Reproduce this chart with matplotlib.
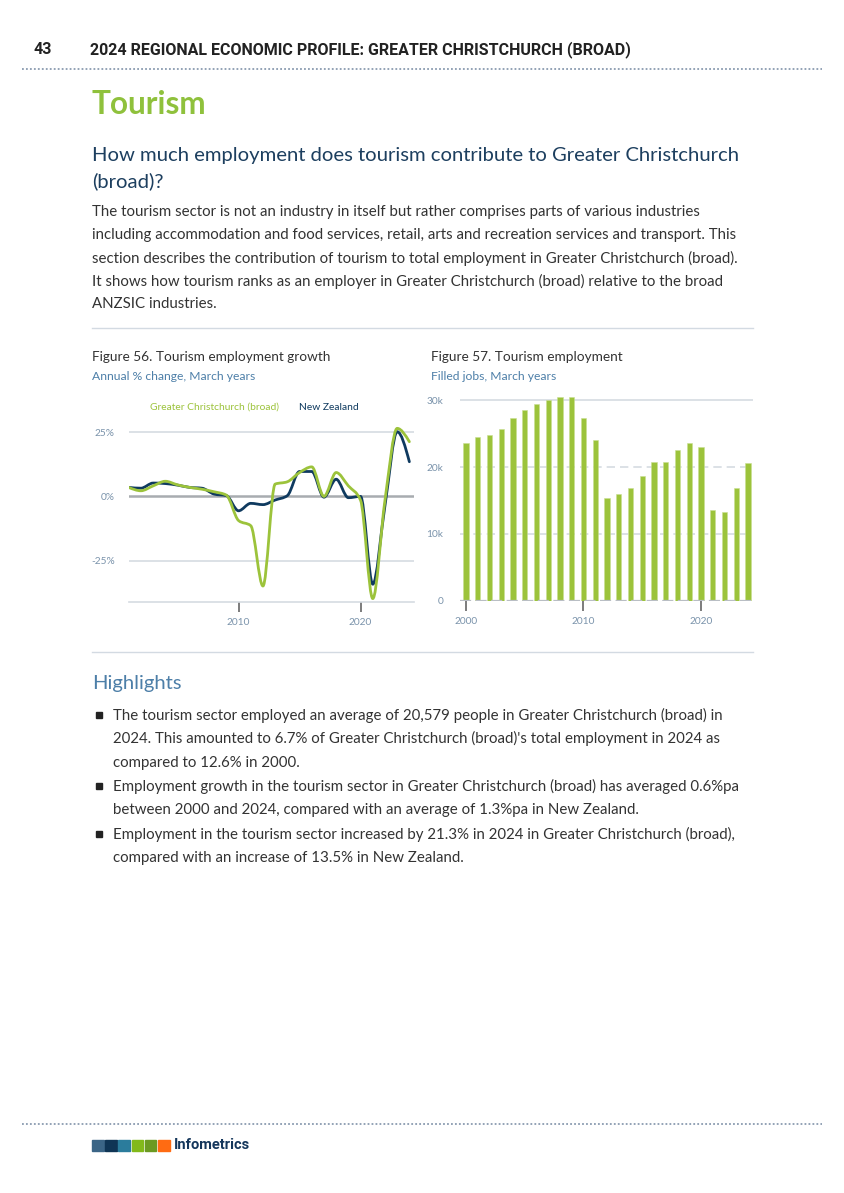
import numpy as np
import matplotlib
matplotlib.use("Agg")
import matplotlib.pyplot as plt
from matplotlib.path import Path
from matplotlib.patches import PathPatch, Rectangle
from matplotlib.lines import Line2D

# ---------------- data ----------------
growth_years = list(range(2001, 2025))
chch_growth = [3.5, 2.2, 4.1, 5.9, 4.5, 3.5, 2.8, 1.8, 0.5, -9.4, -11.4, -34.9,
               4.8, 5.7, 9.3, 11.5, 0.0, 9.3, 4.1, -1.5, -39.8, -1.5, 26.5, 21.3]
nz_growth = [3.5, 3.2, 5.2, 5.0, 4.4, 3.5, 3.2, 0.9, 0.3, -5.6, -2.7, -3.2,
             -1.4, 0.3, 9.7, 9.7, -0.3, 6.7, -0.5, 0.0, -34.2, -3.6, 25.2, 13.5]
growth_yticks = [25, 0, -25]
growth_ylabels = ["25%", "0%", "-25%"]
growth_xticks = [2010, 2020]

job_years = list(range(2000, 2025))
tourism_jobs = [23650, 24450, 24800, 25750, 27300, 28500, 29400, 30000, 30450, 30450,
                27300, 24000, 15400, 16000, 16900, 18600, 20800, 20800, 22600, 23650,
                23050, 13600, 13300, 16800, 20579]
jobs_yticks = [0, 10000, 20000, 30000]
jobs_ylabels = ["0", "10k", "20k", "30k"]
jobs_xticks = [2000, 2010, 2020]

series_names = ["Greater Christchurch (broad)", "New Zealand"]

paragraph = [
    "The tourism sector is not an industry in itself but rather comprises parts of various industries",
    "including accommodation and food services, retail, arts and recreation services and transport. This",
    "section describes the contribution of tourism to total employment in Greater Christchurch (broad).",
    "It shows how tourism ranks as an employer in Greater Christchurch (broad) relative to the broad",
    "ANZSIC industries.",
]
bullets = [
    ["The tourism sector employed an average of 20,579 people in Greater Christchurch (broad) in",
     "2024. This amounted to 6.7% of Greater Christchurch (broad)'s total employment in 2024 as",
     "compared to 12.6% in 2000."],
    ["Employment growth in the tourism sector in Greater Christchurch (broad) has averaged 0.6%pa",
     "between 2000 and 2024, compared with an average of 1.3%pa in New Zealand."],
    ["Employment in the tourism sector increased by 21.3% in 2024 in Greater Christchurch (broad),",
     "compared with an increase of 13.5% in New Zealand."],
]

# ---------------- style ----------------
GREEN = "#9cc33b"
NAVY = "#0f3a5f"
BODY = "#333333"
STEEL = "#4d7fa8"
TICKC = "#7a93ab"
GRID = "#d5dbe2"
BODYFONT = ["Lato", "DejaVu Sans"]
NARROW = ["Liberation Sans Narrow", "Roboto", "DejaVu Sans"]

W, H = 844, 1193
fig = plt.figure(figsize=(W / 100, H / 100), dpi=100)
fig.patch.set_facecolor("white")


def fx(x):
    return x / W


def fy(y):
    return 1 - y / H


def ftext(x, y, s, **kw):
    kw.setdefault("family", BODYFONT)
    kw.setdefault("va", "center")
    kw.setdefault("ha", "left")
    fig.text(fx(x), fy(y), s, **kw)


def hline(y, x0, x1, **kw):
    fig.add_artist(Line2D([fx(x0), fx(x1)], [fy(y), fy(y)], transform=fig.transFigure, **kw))


# header
ftext(34, 50, "43", family=NARROW, fontsize=11.5, color="#222222", weight="bold")
ftext(90, 50, "2024 REGIONAL ECONOMIC PROFILE: GREATER CHRISTCHURCH (BROAD)",
      family=NARROW, fontsize=11.5, color="#222222", weight="bold")
hline(69, 22, 822, color="#8a9bb0", lw=1.3, linestyle=(0, (1, 1.2)))

ftext(92, 105, "Tourism", fontsize=22.7, color="#8fc13c", weight="bold")
ftext(92, 155, "How much employment does tourism contribute to Greater Christchurch",
      fontsize=14.6, color="#1d3f5f")
ftext(92, 181, "(broad)?", fontsize=14.6, color="#1d3f5f")
for i, line in enumerate(paragraph):
    ftext(92, 212 + 23 * i, line, fontsize=10.8, color=BODY)
hline(328, 92, 753, color="#d3dae2", lw=1.0)

ftext(92, 357, "Figure 56. Tourism employment growth", fontsize=9.85, color=BODY)
ftext(92, 377, "Annual % change, March years", fontsize=8.7, color=STEEL)
ftext(431, 357, "Figure 57. Tourism employment", fontsize=9.85, color=BODY)
ftext(431, 377, "Filled jobs, March years", fontsize=8.7, color=STEEL)

ftext(150, 407, series_names[0], fontsize=7.35, color=GREEN)
ftext(299, 407, series_names[1], fontsize=7.35, color=NAVY)


# ---------------- line chart ----------------
def monotone_path(x, y):
    x = np.asarray(x, float)
    y = np.asarray(y, float)
    n = len(x)
    h = np.diff(x)
    s = np.diff(y) / h
    m = np.zeros(n)
    sg = lambda v: -1.0 if v < 0 else 1.0
    for i in range(1, n - 1):
        p = (s[i - 1] * h[i] + s[i] * h[i - 1]) / (h[i - 1] + h[i])
        m[i] = (sg(s[i - 1]) + sg(s[i])) * min(abs(s[i - 1]), abs(s[i]), 0.5 * abs(p))
    m[0] = (3 * s[0] - m[1]) / 2
    m[-1] = (3 * s[-1] - m[-2]) / 2
    verts = [(x[0], y[0])]
    codes = [Path.MOVETO]
    for i in range(n - 1):
        d = h[i] / 3
        verts += [(x[i] + d, y[i] + m[i] * d), (x[i + 1] - d, y[i + 1] - m[i + 1] * d), (x[i + 1], y[i + 1])]
        codes += [Path.CURVE4] * 3
    return Path(verts, codes)


ax1 = fig.add_axes([fx(128.5), fy(601.7), fx(414) - fx(128.5), (601.7 - 415) / H])
ax1.set_xlim(2000.98, 2024.38)
ax1.set_ylim(-41, 31.7)
for v in growth_yticks:
    if v == 0:
        ax1.axhline(v, color="#a8acb0", lw=1.8, zorder=1)
    else:
        ax1.axhline(v, color=GRID, lw=1.2, zorder=1)
ax1.add_patch(PathPatch(monotone_path(growth_years, nz_growth), fill=False, edgecolor=NAVY,
                        lw=2.0, zorder=3, capstyle="round", joinstyle="round"))
ax1.add_patch(PathPatch(monotone_path(growth_years, chch_growth), fill=False, edgecolor=GREEN,
                        lw=2.0, zorder=3, capstyle="round", joinstyle="round"))
ax1.set_yticks(growth_yticks)
ax1.set_yticklabels(growth_ylabels)
ax1.set_xticks(growth_xticks)
ax1.set_xticklabels([str(t) for t in growth_xticks])
for sp in ["top", "right", "left"]:
    ax1.spines[sp].set_visible(False)
ax1.spines["bottom"].set_color(GRID)
ax1.spines["bottom"].set_linewidth(1.2)
ax1.tick_params(axis="y", length=0, pad=10, labelsize=7.3, labelcolor=TICKC)
ax1.tick_params(axis="x", length=7, width=1.2, color="#666666", pad=5, labelsize=7.3, labelcolor=TICKC)
for lab in ax1.get_xticklabels() + ax1.get_yticklabels():
    lab.set_family(BODYFONT)
ax1.set_facecolor("none")

# ---------------- bar chart ----------------
ax2 = fig.add_axes([fx(460), fy(600.5), fx(753) - fx(460), (600.5 - 395) / H])
ax2.set_xlim(1999.49, 2024.43)
ax2.set_ylim(0, 30800)
for v in jobs_yticks:
    if v == 30000:
        ax2.axhline(v, color=GRID, lw=1.2, zorder=0)
    elif v == 0:
        pass
    else:
        ax2.axhline(v, color=GRID, lw=1.2, zorder=0, linestyle=(0, (5, 3)))
ax2.bar(job_years, tourism_jobs, width=0.45, color=GREEN, edgecolor="#c9df93", linewidth=0.4, zorder=2)
ax2.axhline(0, color="#b9bec4", lw=1.6, zorder=3, linestyle=(0, (5, 2)))
ax2.set_yticks(jobs_yticks)
ax2.set_yticklabels(jobs_ylabels)
ax2.set_xticks(jobs_xticks)
ax2.set_xticklabels([str(t) for t in jobs_xticks])
for sp in ["top", "right", "left", "bottom"]:
    ax2.spines[sp].set_visible(False)
ax2.tick_params(axis="y", length=0, pad=12, labelsize=7.3, labelcolor=TICKC)
ax2.tick_params(axis="x", length=7, width=1.2, color="#666666", pad=5, labelsize=7.3, labelcolor=TICKC)
for lab in ax2.get_xticklabels() + ax2.get_yticklabels():
    lab.set_family(BODYFONT)
ax2.set_facecolor("none")

hline(652, 92, 753, color="#d3dae2", lw=1.0)

# ---------------- highlights ----------------
ftext(92, 683, "Highlights", fontsize=14.6, color=STEEL)
yy = 715
for b in bullets:
    fig.add_artist(Rectangle((fx(96), fy(yy + 3)), 6 / W, 6 / H, transform=fig.transFigure,
                             color="#222222"))
    for line in b:
        ftext(113, yy, line, fontsize=10.8, color=BODY)
        yy += 23.8

# ---------------- footer ----------------
hline(1124, 22, 822, color="#8a9bb0", lw=1.3, linestyle=(0, (1, 1.2)))
logo_cols = ["#3b6586", "#0f3555", "#2b7c9c", "#82b91a", "#6b9a22", "#ff6b12"]
for i, c in enumerate(logo_cols):
    fig.add_artist(Rectangle((fx(92 + i * 13.2), fy(1151)), 11.5 / W, 11 / H,
                             transform=fig.transFigure, color=c))
ftext(174, 1145, "Infometrics", family=NARROW, fontsize=10.5, color="#14365b", weight="bold")

fig.savefig("out.png", dpi=100, facecolor="white")
